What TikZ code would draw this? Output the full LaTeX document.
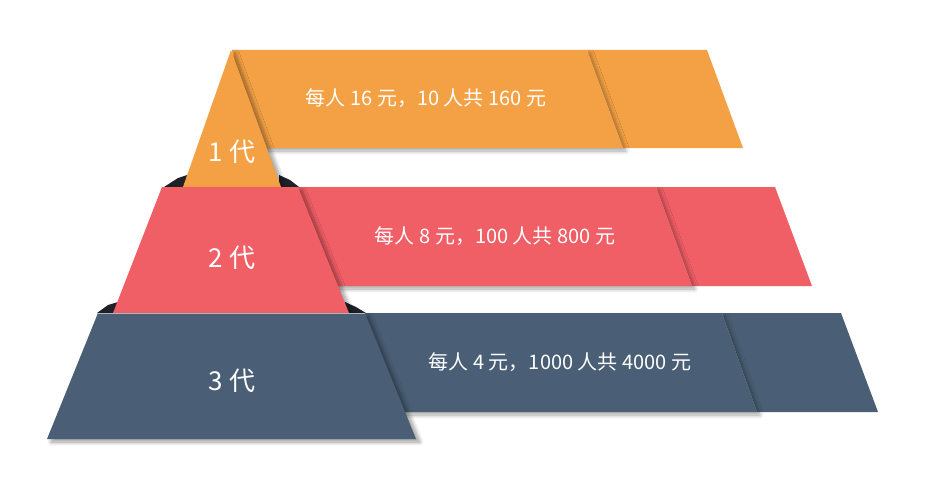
\documentclass[tikz,border=0pt]{standalone}
\usepackage{fontspec}
\setmainfont{Noto Sans CJK SC}
\usetikzlibrary{shadows.blur}

\definecolor{genorange}{HTML}{F4A145}
\definecolor{genred}{HTML}{F05E66}
\definecolor{genblue}{HTML}{4A5F75}
\definecolor{gendark}{HTML}{1E2228}

\begin{document}
\begin{tikzpicture}[
    x=1pt, y=-1pt,
    bandpart/.style={blur shadow={shadow xshift=3pt, shadow yshift=-3pt,
      shadow blur radius=4pt, shadow blur steps=8, shadow opacity=35}},
    levelpart/.style={blur shadow={shadow xshift=4pt, shadow yshift=-3pt,
      shadow blur radius=4pt, shadow blur steps=8, shadow opacity=40}},
    paytext/.style={text=white, font=\fontsize{20}{24}\selectfont},
    gentext/.style={text=white, font=\fontsize{26}{30}\selectfont}
  ]
  \useasboundingbox (0,0) rectangle (925,495);

  % far ends of the bands
  \fill[genorange] (587,50) -- (707,50) -- (743,148) -- (623,148) -- cycle;
  \fill[genred] (656,187) -- (775,187) -- (812,286) -- (692,286) -- cycle;
  \fill[genblue] (722,313) -- (841,313) -- (878,412) -- (757,412) -- cycle;

  % front parts of the bands
  \fill[genorange,bandpart] (232,50) -- (587,50) -- (623,148) -- (245,148) -- cycle;
  \fill[genred,bandpart] (240,187) -- (656,187) -- (692,286) -- (240,286) -- cycle;
  \fill[genblue,bandpart] (240,313) -- (722,313) -- (757,412) -- (240,412) -- cycle;

  % dark corners
  \fill[gendark] (164,187) -- (178,178) -- (187,175) -- (185,187) -- cycle;
  \fill[gendark] (279,175) -- (290,180) -- (299,187) -- (279,187) -- cycle;
  \fill[gendark] (97,313) -- (108,305) -- (118,302) -- (115,313) -- cycle;
  \fill[gendark] (345,302) -- (356,307) -- (366,313) -- (346,313) -- cycle;

  % pyramid
  \fill[genorange,levelpart] (231,50) -- (281,187) -- (183,187) -- cycle;
  \fill[genred,levelpart] (162,187) -- (298,187) -- (349,313) -- (113,313) -- cycle;
  \fill[genblue,levelpart] (98,313) -- (365,313) -- (416,439) -- (47,439) -- cycle;
  \draw[genblue!45!white, line width=0.7pt] (98,313.3) -- (365,313.3);

  \node[gentext] (gen1) at (232,152) {1 代};
  \node[gentext] (gen2) at (232,258) {2 代};
  \node[gentext] (gen3) at (232,381) {3 代};

  \node[paytext] (pay1) at (426,98) {每人 16 元，10 人共 160 元};
  \node[paytext] (pay2) at (495,236) {每人 8 元，100 人共 800 元};
  \node[paytext] (pay3) at (560,362) {每人 4 元，1000 人共 4000 元};
\end{tikzpicture}
\end{document}
